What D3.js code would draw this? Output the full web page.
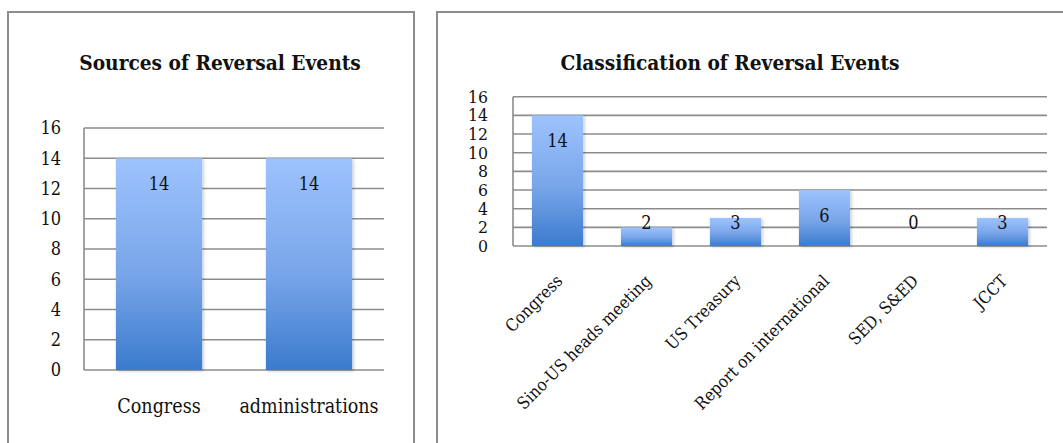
<!DOCTYPE html>
<html>
<head>
<meta charset="utf-8">
<script src="https://cdn.jsdelivr.net/npm/d3@7"></script>
<style>
  html, body { margin: 0; padding: 0; background: #fff; }
  svg { display: block; }
  text { font-family: "DejaVu Serif Condensed", "DejaVu Serif", serif; fill: #111; }
</style>
</head>
<body>
<svg id="chart" width="1063" height="443"></svg>
<script>
// Sources of reversal events
const sourceCategories = ["Congress", "administrations"];
const sourceValues = [14, 14];

// Classification of reversal events
const classCategories = ["Congress", "Sino-US heads meeting", "US Treasury", "Report on international", "SED, S&ED", "JCCT"];
const classValues = [14, 2, 3, 6, 0, 3];

// Shared value axis ticks
const yTicks = [0, 2, 4, 6, 8, 10, 12, 14, 16];

const svg = d3.select("#chart");
const defs = svg.append("defs");

const grad = defs.append("linearGradient")
  .attr("id", "barFill").attr("x1", 0).attr("y1", 0).attr("x2", 0).attr("y2", 1);
grad.append("stop").attr("offset", "0%").attr("stop-color", "#9dc3fd");
grad.append("stop").attr("offset", "55%").attr("stop-color", "#78a5e9");
grad.append("stop").attr("offset", "100%").attr("stop-color", "#3b7bcd");

const shadow = defs.append("filter").attr("id", "barShadow")
  .attr("x", "-20%").attr("y", "-10%").attr("width", "140%").attr("height", "130%");
shadow.append("feDropShadow").attr("dx", 1.5).attr("dy", 1).attr("stdDeviation", 1.5)
  .attr("flood-color", "#000").attr("flood-opacity", 0.22);

function panel(cfg) {
  const g = svg.append("g");

  // outer frame
  g.append("rect")
    .attr("x", cfg.frame[0]).attr("y", cfg.frame[1])
    .attr("width", cfg.frame[2]).attr("height", cfg.frame[3])
    .attr("fill", "#fff").attr("stroke", "#8c8c8c").attr("stroke-width", 2);

  g.append("text")
    .attr("x", cfg.titleX).attr("y", cfg.titleY)
    .attr("text-anchor", "middle")
    .attr("font-weight", "bold")
    .attr("font-size", cfg.titleSize)
    .text(cfg.title);

  const x = d3.scaleBand().domain(cfg.categories)
    .range([cfg.left, cfg.right]).paddingInner(0.425).paddingOuter(0.2125);
  const y = d3.scaleLinear().domain([0, 16]).range([cfg.bottom, cfg.top]);

  // horizontal gridlines
  g.append("g").selectAll("line").data(yTicks).join("line")
    .attr("x1", cfg.left).attr("x2", cfg.right)
    .attr("y1", d => y(d)).attr("y2", d => y(d))
    .attr("stroke", "#8c8c8c").attr("stroke-width", 1.6);

  // value axis line
  g.append("line")
    .attr("x1", cfg.left).attr("x2", cfg.left)
    .attr("y1", y(16)).attr("y2", y(0))
    .attr("stroke", "#8c8c8c").attr("stroke-width", 1.6);

  // value axis labels
  const yAxis = d3.axisLeft(y).tickValues(yTicks).tickSize(0).tickPadding(cfg.tickPad);
  const ya = g.append("g").attr("transform", `translate(${cfg.left},0)`).call(yAxis);
  ya.select(".domain").remove();
  ya.selectAll("text")
    .attr("font-size", cfg.tickSize)
    .attr("fill", "#111")
    .attr("font-family", "DejaVu Serif Condensed, DejaVu Serif, serif");

  // bars
  g.append("g").selectAll("rect").data(cfg.values).join("rect")
    .attr("x", (d, i) => x(cfg.categories[i]))
    .attr("width", x.bandwidth())
    .attr("y", d => y(d))
    .attr("height", d => y(0) - y(d))
    .attr("fill", "url(#barFill)")
    .attr("filter", "url(#barShadow)");

  // value labels: inside the top of the bar, held above the baseline for short bars
  g.append("g").selectAll("text").data(cfg.values).join("text")
    .attr("x", (d, i) => x(cfg.categories[i]) + x.bandwidth() / 2)
    .attr("y", d => Math.min(y(d) + 32, y(0) - 17))
    .attr("text-anchor", "middle")
    .attr("font-size", cfg.labelSize)
    .text(d => d);

  // category labels
  const cat = g.append("g").selectAll("text").data(cfg.categories).join("text")
    .attr("font-size", cfg.catSize)
    .text(d => d);
  if (cfg.rotate) {
    cat.attr("text-anchor", "end")
      .attr("transform", d => `translate(${x(d) + x.bandwidth() / 2 + cfg.catDx},${cfg.catY}) rotate(-45)`);
  } else {
    cat.attr("text-anchor", "middle")
      .attr("x", d => x(d) + x.bandwidth() / 2)
      .attr("y", cfg.catY);
  }
}

panel({
  frame: [8, 12, 406, 460],
  title: "Sources of Reversal Events",
  titleX: 220, titleY: 70, titleSize: 20.7,
  categories: sourceCategories, values: sourceValues,
  left: 84, right: 384, top: 128, bottom: 370,
  tickPad: 23, tickSize: 18, labelSize: 18, catSize: 19.5,
  catY: 413, rotate: false
});

panel({
  frame: [437, 12, 660, 460],
  title: "Classification of Reversal Events",
  titleX: 730, titleY: 70, titleSize: 20.7,
  categories: classCategories, values: classValues,
  left: 513, right: 1047, top: 96.7, bottom: 246,
  tickPad: 25, tickSize: 17.5, labelSize: 18, catSize: 17,
  catY: 282, catDx: 6, rotate: true
});
</script>
</body>
</html>
